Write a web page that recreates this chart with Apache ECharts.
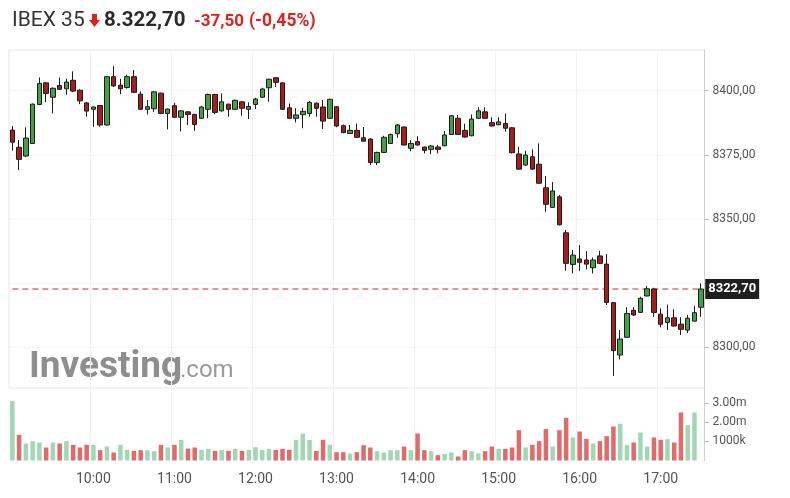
<!DOCTYPE html>
<html>
<head>
<meta charset="utf-8">
<script src="https://cdn.jsdelivr.net/npm/echarts@6/dist/echarts.min.js"></script>
<style>
html,body{margin:0;padding:0;background:#fff;}
#c{width:790px;height:498px;}
</style>
</head>
<body>
<div id="c"></div>
<script>
const times = ["09:00","09:05","09:10","09:15","09:20","09:25","09:30","09:35","09:40","09:45","09:50","09:55",
"10:00","10:05","10:10","10:15","10:20","10:25","10:30","10:35","10:40","10:45","10:50","10:55",
"11:00","11:05","11:10","11:15","11:20","11:25","11:30","11:35","11:40","11:45","11:50","11:55",
"12:00","12:05","12:10","12:15","12:20","12:25","12:30","12:35","12:40","12:45","12:50","12:55",
"13:00","13:05","13:10","13:15","13:20","13:25","13:30","13:35","13:40","13:45","13:50","13:55",
"14:00","14:05","14:10","14:15","14:20","14:25","14:30","14:35","14:40","14:45","14:50","14:55",
"15:00","15:05","15:10","15:15","15:20","15:25","15:30","15:35","15:40","15:45","15:50","15:55",
"16:00","16:05","16:10","16:15","16:20","16:25","16:30","16:35","16:40","16:45","16:50","16:55",
"17:00","17:05","17:10","17:15","17:20","17:25","17:30"];

const open = [8384.6,8377.9,8374.5,8379.4,8394.6,8403.0,8397.4,8402.0,8400.7,8404.0,8400.1,8395.2,
8392.7,8394.2,8386.6,8405.4,8402.1,8401.2,8405.4,8398.6,8392.7,8392.9,8399.0,8391.1,
8394.1,8389.6,8391.7,8390.7,8389.2,8392.7,8398.5,8392.1,8394.7,8392.7,8395.6,8392.7,
8394.6,8397.4,8401.1,8405.0,8403.0,8393.3,8389.2,8390.6,8391.1,8395.1,8393.6,8389.2,
8393.7,8386.3,8383.3,8384.5,8381.6,8381.1,8372.0,8375.9,8379.4,8383.2,8385.8,8377.5,
8380.1,8378.0,8377.1,8378.0,8378.5,8382.9,8389.2,8384.5,8382.4,8389.2,8391.7,8387.5,
8386.7,8387.2,8385.5,8375.3,8371.0,8374.2,8371.3,8362.1,8354.5,8358.6,8344.6,8332.3,
8334.4,8334.0,8331.0,8335.6,8332.4,8317.4,8297.0,8303.9,8314.4,8313.6,8320.0,8322.7,
8312.9,8309.7,8311.5,8309.0,8306.7,8310.2,8315.6];
const close = [8379.9,8373.2,8381.5,8394.7,8402.8,8398.9,8400.9,8400.5,8403.3,8399.8,8396.0,8392.0,
8393.6,8386.6,8405.4,8401.8,8400.7,8405.4,8399.3,8392.7,8393.7,8399.5,8391.1,8392.8,
8389.6,8392.1,8390.7,8386.8,8393.6,8398.5,8391.5,8395.6,8392.7,8396.2,8393.1,8393.8,
8396.7,8400.6,8404.4,8403.2,8392.7,8389.2,8390.5,8391.9,8395.4,8393.1,8388.1,8396.6,
8386.2,8383.6,8384.5,8381.8,8380.3,8372.0,8375.9,8381.8,8382.9,8386.6,8378.8,8379.4,
8378.8,8376.7,8378.4,8377.1,8382.7,8390.2,8382.9,8381.9,8388.9,8392.1,8389.2,8386.2,
8387.8,8385.3,8375.8,8369.4,8374.9,8369.4,8363.9,8355.7,8360.9,8347.7,8332.7,8335.9,
8333.1,8332.4,8334.0,8332.7,8317.5,8298.7,8303.2,8313.2,8312.6,8319.1,8322.8,8313.6,
8309.0,8311.5,8308.3,8307.0,8311.3,8313.5,8322.7];
const low = [8376.6,8369.0,8374.2,8379.2,8394.3,8395.5,8391.1,8400.2,8398.4,8399.4,8394.7,8389.8,
8385.9,8385.9,8386.4,8401.5,8398.6,8400.7,8399.0,8392.5,8390.7,8391.6,8390.8,8384.9,
8389.4,8384.1,8386.6,8384.3,8389.0,8389.2,8390.8,8391.8,8389.8,8392.5,8390.2,8388.9,
8392.8,8397.2,8395.6,8401.4,8392.5,8389.0,8387.6,8385.3,8389.8,8389.8,8385.0,8389.0,
8385.7,8383.4,8383.2,8381.6,8380.1,8371.0,8371.0,8375.7,8379.2,8381.6,8378.6,8376.4,
8378.6,8375.5,8375.2,8375.5,8378.3,8382.7,8382.7,8381.7,8382.2,8389.0,8389.0,8386.0,
8386.5,8384.0,8375.5,8369.2,8370.8,8369.2,8363.7,8352.8,8354.3,8347.5,8329.8,8328.8,
8329.8,8330.4,8328.8,8332.5,8316.5,8288.8,8295.3,8303.7,8312.2,8313.4,8319.8,8311.9,
8307.8,8306.7,8308.0,8304.8,8305.5,8310.0,8311.9];
const high = [8386.2,8380.7,8385.7,8395.0,8405.1,8403.2,8401.2,8405.1,8404.6,8407.5,8400.5,8395.5,
8393.8,8394.3,8405.6,8409.5,8404.6,8406.2,8408.0,8399.7,8396.3,8399.7,8399.2,8393.0,
8395.2,8392.3,8392.0,8391.0,8394.1,8398.8,8398.7,8398.9,8394.9,8396.5,8395.9,8395.4,
8397.2,8401.1,8404.6,8405.2,8403.2,8395.0,8393.1,8393.3,8395.9,8395.3,8396.3,8396.8,
8393.9,8386.8,8386.6,8387.1,8385.8,8381.4,8376.2,8382.4,8383.2,8387.0,8386.0,8380.7,
8382.2,8378.2,8378.8,8378.8,8384.2,8390.4,8390.5,8387.1,8390.7,8393.5,8393.5,8389.6,
8389.6,8391.1,8385.8,8378.1,8376.6,8377.1,8379.4,8366.7,8364.4,8359.3,8345.7,8337.9,
8339.8,8337.5,8335.0,8337.6,8336.3,8317.6,8306.7,8315.6,8315.6,8319.7,8323.9,8323.2,
8315.2,8316.6,8314.8,8311.7,8312.6,8316.1,8324.9];

const volume = [3090,1337,885,1007,937,677,937,885,1007,816,677,816,
816,538,729,417,816,556,503,538,538,486,816,677,
816,1076,625,677,556,608,503,538,503,608,503,556,
694,556,608,556,608,556,1076,1406,1076,503,1076,816,
434,434,365,434,799,677,486,417,538,538,729,538,
1406,538,486,278,347,417,208,538,486,365,486,729,
608,608,677,1580,677,816,1007,1632,729,1580,2222,1198,
1510,1128,885,1007,1267,1771,1910,799,937,1458,729,1198,
1076,1111,937,2500,1840,2500,0];
const volDir = ["u","d","u","u","u","d","u","d","u","d","d","d",
"u","d","u","d","u","u","d","d","u","u","d","u",
"d","u","d","d","u","u","d","u","d","u","d","u",
"u","u","u","d","d","d","u","u","u","d","d","u",
"d","d","u","d","d","d","u","u","u","u","d","u",
"d","d","u","d","u","u","d","d","u","u","d","d",
"u","d","d","d","u","d","d","d","u","d","d","u",
"d","d","u","d","d","d","u","u","d","u","u","d",
"d","u","d","d","u","u","u"];

const priceLabels = [8300,8350,8375,8400];
const priceTicks = [8300,8325,8350,8375,8400];
const volTicks = [1000000,2000000,3000000];
const lastPrice = 8322.70;
const titleName = "IBEX 35";
const titlePrice = "8.322,70";
const titleChange = "-37,50";
const titlePct = "(-0,45%)";

const fmtPrice = v => v.toFixed(2).replace('.', ',');
const candleData = open.map((o,i)=>[o, close[i], low[i], high[i]]);
const volData = volume.map((v,i)=>({value: v*1000, itemStyle:{color: volDir[i]==='u' ? '#a3d7b4' : '#e06b6b'}}));
const lastLine = times.map(() => lastPrice);

const FONT = 'Roboto, Arial, sans-serif';
const chart = echarts.init(document.getElementById('c'), null, {renderer:'canvas'});
const hourIdx = (i) => i > 0 && i % 12 === 0;
const RED = '#e0201c';

chart.setOption({
  animation: false,
  backgroundColor: '#fff',
  textStyle: {fontFamily: FONT},
  graphic: [
    {type:'text', x: 12, y: 31, style:{text: titleName, font: '21px ' + FONT, fill:'#333', verticalAlign:'bottom'}},
    {type:'polygon', shape:{points:[[92,14],[97,14],[97,20],[100,20],[94.5,27],[89,20],[92,20]]}, style:{fill:RED}},
    {type:'text', x: 104, y: 31, style:{text: titlePrice, font: 'bold 20.5px ' + FONT, fill:'#2a2a2a', verticalAlign:'bottom'}},
    {type:'text', x: 194, y: 30.5, style:{text: titleChange, font: 'bold 17px ' + FONT, fill:RED, verticalAlign:'bottom'}},
    {type:'text', x: 249, y: 30.5, style:{text: titlePct, font: 'bold 17.5px ' + FONT, fill:RED, verticalAlign:'bottom'}},
    {type:'text', x: 29, y: 386, z: 0, style:{text: 'Investing', font: 'bold 37px ' + FONT, fill:'#8e8e8e', verticalAlign:'bottom'}},
    {type:'text', x: 180, y: 383, z: 0, style:{text: '.com', font: '24px ' + FONT, fill:'#9a9a9a', verticalAlign:'bottom'}}
  ],
  grid: [
    {left: 9, right: 85.4, top: 50, height: 338, show: true, borderColor: '#e6e6e6', borderWidth: 1},
    {left: 9, right: 85.4, top: 389, height: 71.5}
  ],
  xAxis: [
    {type:'category', gridIndex:0, data: times, boundaryGap: true,
     axisLine:{show:false}, axisTick:{show:false}, axisLabel:{show:false},
     splitLine:{show:true, interval: (i)=>hourIdx(i), lineStyle:{color:'#f2f2f2'}}},
    {type:'category', gridIndex:1, data: times, boundaryGap: true,
     axisLine:{show:false}, axisTick:{show:false},
     axisLabel:{interval:(i)=>hourIdx(i), color:'#555', fontSize:14, margin: 12, fontFamily: FONT},
     splitLine:{show:true, interval: (i)=>hourIdx(i), lineStyle:{color:'#f2f2f2'}}}
  ],
  yAxis: [
    {type:'value', gridIndex:0, position:'right', min: 8284.15, max: 8415.8, scale: true,
     axisLine:{show:true, lineStyle:{color:'#d0d0d0'}},
     axisTick:{show:true, customValues: priceTicks, length: 4, lineStyle:{color:'#bbb'}},
     axisLabel:{customValues: priceLabels, formatter: fmtPrice, color:'#555', fontSize:12, margin: 8, fontFamily: FONT},
     splitLine:{show:true, lineStyle:{color:'#f5f5f5'}}},
    {type:'value', gridIndex:1, position:'right', min: 0, max: 3724000,
     axisLine:{show:true, lineStyle:{color:'#d0d0d0'}},
     axisTick:{show:true, customValues: volTicks, length: 4, lineStyle:{color:'#bbb'}},
     axisLabel:{customValues: volTicks, color:'#555', fontSize:12, margin: 8, fontFamily: FONT,
       formatter: v => v >= 2000000 ? (v/1000000).toFixed(2) + 'm' : (v/1000) + 'k'},
     splitLine:{show:false}}
  ],
  series: [
    {type:'line', xAxisIndex:0, yAxisIndex:0, data: lastLine, z: 1, symbol:'none', silent:true,
     color:'#c62a26',
     lineStyle:{color:'#c62a26', type:[6,4], width:1},
     endLabel:{show:true, distance: 4, formatter: () => fmtPrice(lastPrice),
       backgroundColor:'#1e1e1e', color:'#fff', fontWeight:'bold', fontSize:13, padding:[4,3,3,3], fontFamily: FONT}
    },
    {type:'candlestick', xAxisIndex:0, yAxisIndex:0, data: candleData, barWidth: 5, z: 3,
     itemStyle:{color:'#45a045', color0:'#a51e1e', borderColor:'#1c1c1c', borderColor0:'#1c1c1c', borderWidth:1}},
    {type:'bar', xAxisIndex:1, yAxisIndex:1, data: volData, barWidth: 4.5}
  ]
});
</script>
</body>
</html>
